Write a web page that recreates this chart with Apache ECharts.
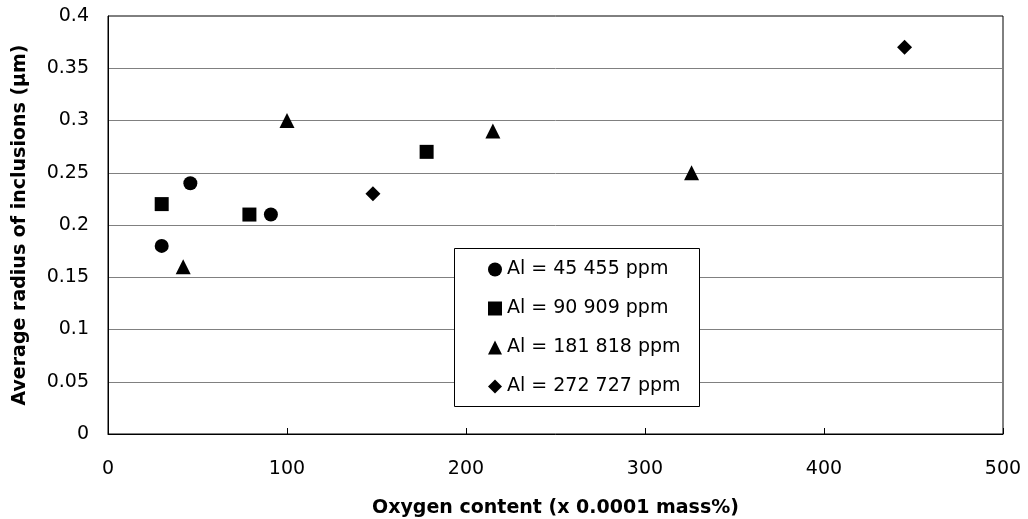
<!DOCTYPE html>
<html>
<head>
<meta charset="utf-8">
<script src="https://cdn.jsdelivr.net/npm/echarts@6/dist/echarts.min.js"></script>
<style>
html,body{margin:0;padding:0;background:#fff;}
#chart{width:1028px;height:519px;}
</style>
</head>
<body>
<div id="chart"></div>
<script>
// Data
const seriesNames = ['Al = 45 455 ppm', 'Al = 90 909 ppm', 'Al = 181 818 ppm', 'Al = 272 727 ppm'];
const al45455 = [[30, 0.18], [46, 0.24], [91, 0.21]];
const al90909 = [[30, 0.22], [79, 0.21], [178, 0.27]];
const al181818 = [[42, 0.16], [100, 0.30], [215, 0.29], [326, 0.25]];
const al272727 = [[148, 0.23], [445, 0.37]];
const xTitle = 'Oxygen content (x 0.0001 mass%)';
const yTitle = 'Average radius of inclusions (µm)';

const FONT = 'DejaVu Sans';
const chart = echarts.init(document.getElementById('chart'));

function mk(name, data, symbol, size) {
  return {
    name: name, type: 'scatter', data: data, symbol: symbol, symbolSize: size,
    itemStyle: { color: '#000', opacity: 1 }, z: 2
  };
}

chart.setOption({
  animation: false,
  backgroundColor: '#fff',
  grid: {
    left: 108, right: 25, top: 16, bottom: 85,
    outerBoundsMode: 'none', containLabel: false,
    show: true, borderColor: '#000', borderWidth: 1, backgroundColor: 'transparent'
  },
  xAxis: {
    type: 'value', min: 0, max: 500, interval: 100,
    name: xTitle, nameLocation: 'middle', nameGap: 65, nameMoveOverlap: false,
    nameTextStyle: { fontFamily: FONT, fontWeight: 'bold', fontSize: 19, color: '#000' },
    axisLine: { show: true, lineStyle: { color: '#000', width: 1 } },
    axisTick: { show: true, inside: true, length: 6, lineStyle: { color: '#000' } },
    axisLabel: { margin: 26, fontFamily: FONT, fontSize: 19, color: '#000' },
    splitLine: { show: false }
  },
  yAxis: {
    type: 'value', min: 0, max: 0.4, interval: 0.05,
    name: yTitle, nameLocation: 'middle', nameGap: 78, nameRotate: 90, nameMoveOverlap: false,
    nameTextStyle: { fontFamily: FONT, fontWeight: 'bold', fontSize: 19, color: '#000' },
    axisLine: { show: true, lineStyle: { color: '#000', width: 1 } },
    axisTick: { show: false },
    axisLabel: { margin: 19, fontFamily: FONT, fontSize: 19, color: '#000' },
    splitLine: { show: true, showMinLine: false, showMaxLine: false, lineStyle: { color: '#808080', width: 1 } }
  },
  graphic: [{
    type: 'rect', z: 3,
    shape: { x: 454.5, y: 248.5, width: 245, height: 158 },
    style: { fill: '#fff', stroke: '#000', lineWidth: 1 }
  }],
  legend: {
    orient: 'vertical', left: 488, top: 260, padding: 0, itemGap: 20,
    itemWidth: 14, itemHeight: 14, z: 5,
    itemStyle: { color: '#000', opacity: 1 },
    textStyle: { fontFamily: FONT, fontSize: 19, color: '#000' },
    data: [
      { name: seriesNames[0], icon: 'circle' },
      { name: seriesNames[1], icon: 'rect' },
      { name: seriesNames[2], icon: 'triangle' },
      { name: seriesNames[3], icon: 'diamond' }
    ]
  },
  series: [
    mk(seriesNames[0], al45455, 'circle', 14),
    mk(seriesNames[1], al90909, 'rect', 14),
    mk(seriesNames[2], al181818, 'triangle', 15),
    mk(seriesNames[3], al272727, 'diamond', 15)
  ]
});
</script>
</body>
</html>
